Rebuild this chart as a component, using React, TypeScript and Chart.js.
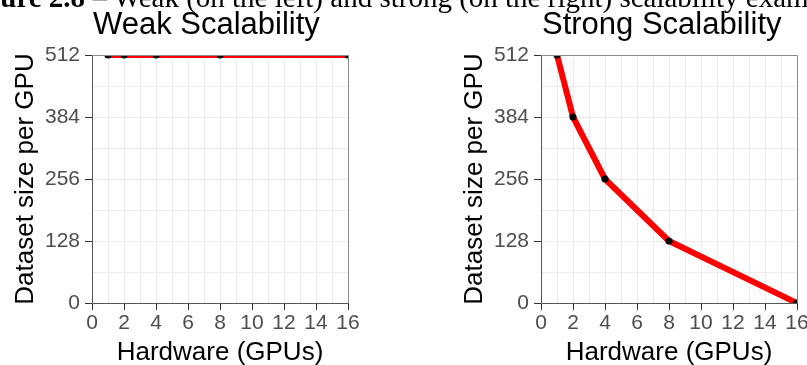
import React, { useEffect, useRef } from 'react';
import { Chart, registerables } from 'chart.js';

Chart.register(...registerables);

// ---- data ----
const captionBold = 'Figure 2.8';
const captionRest = ' – Weak (on the left) and strong (on the right) scalability examples';
const panelTitles = ['Weak Scalability', 'Strong Scalability'];
const xAxisTitle = 'Hardware (GPUs)';
const yAxisTitle = 'Dataset size per GPU';
const gpuCounts = [1, 2, 4, 8, 16];
const weakSizes = [512, 512, 512, 512, 512];
const strongSizes = [512, 384, 256, 128, 0];
const xTickLabels = [0, 2, 4, 6, 8, 10, 12, 14, 16];
const yTickLabels = [0, 128, 256, 384, 512];

const FONT = "'Liberation Sans', Arial, Helvetica, sans-serif";
const GRID = '#EBEBEB';
const TICK = '#333333';
const LABEL = '#4D4D4D';

// major ticks plus the minor gridlines halfway between them
function withMinor(ticks: number[]) {
  const out: number[] = [];
  ticks.forEach((t, i) => {
    out.push(t);
    if (i < ticks.length - 1) out.push((t + ticks[i + 1]) / 2);
  });
  return out;
}

const decorPlugin = {
  id: 'panelDecor',
  afterDatasetsDraw(chart: any) {
    const { ctx, chartArea: a } = chart;
    const l = Math.round(a.left) + 0.5;
    const r = Math.round(a.right) + 0.5;
    const t = Math.round(a.top) + 0.5;
    const b = Math.round(a.bottom) + 0.5;
    ctx.save();
    ctx.lineWidth = 1;
    ctx.strokeStyle = '#8C8C8C';
    ctx.beginPath();
    ctx.moveTo(l, t);
    ctx.lineTo(r, t);
    ctx.lineTo(r, b);
    ctx.stroke();
    ctx.strokeStyle = '#555555';
    ctx.beginPath();
    ctx.moveTo(l, t);
    ctx.lineTo(l, b);
    ctx.lineTo(r, b);
    ctx.stroke();
    ctx.restore();
  },
  afterDraw(chart: any, _args: any, opts: any) {
    const { ctx, chartArea: a } = chart;
    ctx.save();
    ctx.fillStyle = '#000';
    ctx.font = `31px ${FONT}`;
    ctx.textAlign = 'left';
    ctx.textBaseline = 'alphabetic';
    ctx.fillText(opts.text, a.left + 1, 34);
    ctx.restore();
  },
};

function Panel({ title, values, left }: { title: string; values: number[]; left: number }) {
  const ref = useRef<HTMLCanvasElement | null>(null);
  useEffect(() => {
    const chart = new Chart(ref.current as HTMLCanvasElement, {
      type: 'line',
      data: {
        datasets: [
          {
            data: gpuCounts.map((x, i) => ({ x, y: values[i] })),
            borderColor: '#FF0000',
            backgroundColor: '#FF0000',
            borderWidth: 6,
            borderJoinStyle: 'round',
            borderCapStyle: 'butt',
            tension: 0,
            pointRadius: 3.6,
            pointHoverRadius: 3.6,
            pointBackgroundColor: '#000000',
            pointBorderWidth: 0,
            clip: 0,
          } as any,
        ],
      },
      options: {
        responsive: false,
        animation: false,
        devicePixelRatio: 1,
        events: [],
        layout: { padding: { left: 0, right: 52, top: 55, bottom: 0 } },
        plugins: {
          legend: { display: false },
          tooltip: { enabled: false },
          title: { display: false },
          panelDecor: { text: title },
        } as any,
        scales: {
          x: {
            type: 'linear',
            min: 0,
            max: 16,
            afterBuildTicks: (s: any) => {
              s.ticks = withMinor(xTickLabels).map((v) => ({ value: v }));
            },
            afterFit: (s: any) => {
              s.height = 77;
            },
            ticks: {
              autoSkip: false,
              maxRotation: 0,
              minRotation: 0,
              padding: 1,
              color: LABEL,
              font: { family: FONT, size: 21 },
              callback: (v: any) => (xTickLabels.includes(Number(v)) ? String(v) : ''),
            },
            grid: {
              color: GRID,
              lineWidth: 1,
              tickLength: 7,
              tickWidth: 1,
              tickColor: (c: any) => (xTickLabels.includes(c.tick?.value) ? TICK : 'rgba(0,0,0,0)'),
            },
            border: { display: false },
            title: {
              display: true,
              text: xAxisTitle,
              color: '#000',
              font: { family: FONT, size: 26 },
              padding: { top: 0, bottom: 12 },
            },
          },
          y: {
            type: 'linear',
            min: 0,
            max: 512,
            afterBuildTicks: (s: any) => {
              s.ticks = withMinor(yTickLabels).map((v) => ({ value: v }));
            },
            afterFit: (s: any) => {
              s.width = 92;
            },
            ticks: {
              autoSkip: false,
              padding: 5,
              color: LABEL,
              font: { family: FONT, size: 21 },
              callback: (v: any) => (yTickLabels.includes(Number(v)) ? String(v) : ''),
            },
            grid: {
              color: GRID,
              lineWidth: 1,
              tickLength: 7,
              tickWidth: 1,
              tickColor: (c: any) => (yTickLabels.includes(c.tick?.value) ? TICK : 'rgba(0,0,0,0)'),
            },
            border: { display: false },
            title: {
              display: true,
              text: yAxisTitle,
              color: '#000',
              font: { family: FONT, size: 26 },
              padding: { top: 10, bottom: 0 },
            },
          },
        },
      } as any,
      plugins: [decorPlugin as any],
    });
    return () => chart.destroy();
  }, []);
  return (
    <canvas
      ref={ref}
      width={400}
      height={380}
      style={{ position: 'absolute', left, top: 0, width: 400, height: 380 }}
    />
  );
}

export default function App() {
  return (
    <div
      style={{
        position: 'fixed',
        left: 0,
        top: 0,
        width: 807,
        height: 365,
        overflow: 'hidden',
        background: '#fff',
      }}
    >
      <Panel title={panelTitles[0]} values={weakSizes} left={0} />
      <Panel title={panelTitles[1]} values={strongSizes} left={449} />
      <div
        style={{
          position: 'absolute',
          left: -40,
          top: -17,
          whiteSpace: 'nowrap',
          fontFamily: "'Liberation Serif', 'Times New Roman', serif",
          fontSize: 29,
          lineHeight: '29px',
          color: '#000',
        }}
      >
        <b>{captionBold}</b>
        {captionRest}
      </div>
    </div>
  );
}
